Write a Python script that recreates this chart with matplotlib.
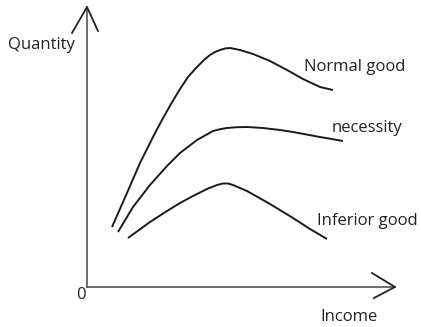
import matplotlib
matplotlib.use("Agg")
from matplotlib import pyplot as plt

plt.rcParams['font.family'] = ['Open Sans', 'DejaVu Sans']

# curve points (origin at the axes corner)
normal_x = [25, 40, 53, 66, 75, 84, 93, 101, 110, 117, 123, 128, 133, 138, 143, 153, 166, 183, 200, 216, 233, 246]
normal_y = [60, 94, 124, 150, 167, 183, 198, 210, 220, 227, 232, 235, 237, 238.5, 239, 237, 233, 226, 217, 208, 200, 197]

necessity_x = [31, 46, 63, 80, 93, 110, 126, 134, 140, 150, 160, 176, 193, 206, 233, 256]
necessity_y = [55, 80, 102, 121, 134, 147, 156, 158, 159, 159.8, 160, 159, 157, 155, 150, 146]

inferior_x = [41, 63, 80, 93, 106, 120, 130, 136, 141, 146, 160, 183, 206, 223, 240]
inferior_y = [49, 65, 76, 84, 91, 98, 102, 103.5, 103.5, 102, 96, 83, 69, 58, 48]

labels = ["Normal good", "necessity", "Inferior good"]
label_pos = [(217, 220), (245, 159), (230, 66)]

fig = plt.figure(figsize=(4.21, 3.27), dpi=100)
ax = fig.add_axes([0, 0, 1, 1])
ax.set_xlim(-87, 334)
ax.set_ylim(-40, 287)
ax.axis('off')

# axes with arrow heads
ax.plot([0, 0], [0, 280], color='#555555', lw=1.2)
ax.plot([0, 308], [0, 0], color='#555555', lw=1.2)
ax.plot([-15, 0, 11], [254, 280, 256], color='#222222', lw=1.3)
ax.plot([285, 308, 287], [14, 0, -11], color='#222222', lw=1.3)

for xs, ys in [(normal_x, normal_y), (necessity_x, necessity_y), (inferior_x, inferior_y)]:
    ax.plot(xs, ys, color='#1a1a1a', lw=1.4, solid_capstyle='butt', solid_joinstyle='round')

for lab, (x, y) in zip(labels, label_pos):
    ax.text(x, y, lab, fontsize=12, color='#222222', ha='left', va='center')

ax.text(-79, 242, "Quantity", fontsize=12, color='#222222', ha='left', va='center')
ax.text(-6, -8, "0", fontsize=12, color='#222222', ha='center', va='center')
ax.text(233, -30, "Income", fontsize=12, color='#222222', ha='left', va='center')

fig.savefig("out.png", dpi=100)
